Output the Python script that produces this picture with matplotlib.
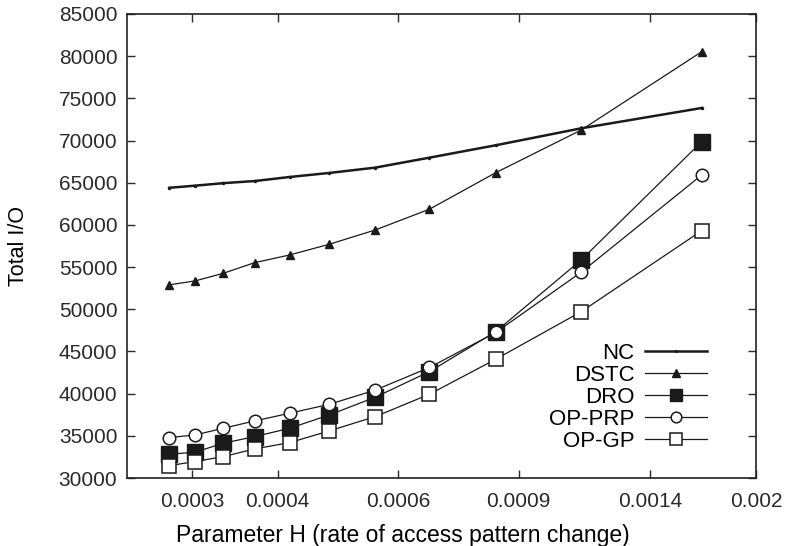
import matplotlib
matplotlib.use('Agg')
import matplotlib.pyplot as plt
import numpy as np

plt.rcParams['font.family'] = ['Liberation Sans', 'DejaVu Sans']

# H = 1/period, periods 3600 ... 600
H = [1/3600, 1/3300, 1/3000, 1/2700, 1/2400, 1/2100, 1/1800, 1/1500, 1/1200, 1/900, 1/600]

nc    = [64400, 64650, 64950, 65200, 65680, 66160, 66790, 67970, 69440, 71450, 73860]
dstc  = [52900, 53360, 54270, 55530, 56440, 57710, 59400, 61860, 66190, 71250, 80530]
dro   = [32820, 33060, 34130, 34910, 35900, 37480, 39580, 42610, 47350, 55850, 69870]
opprp = [34790, 35110, 35900, 36770, 37680, 38740, 40420, 43100, 47250, 54400, 65920]
opgp  = [31470, 31950, 32540, 33450, 34200, 35590, 37280, 39930, 44080, 49720, 59320]

xticks = [0.0003, 0.0004, 0.0006, 0.0009, 0.0014, 0.002]
xticklabels = ['0.0003', '0.0004', '0.0006', '0.0009', '0.0014', '0.002']
yticks = np.arange(30000, 85001, 5000)

fig = plt.figure(figsize=(7.85, 5.46), dpi=100)
ax = fig.add_axes([0.1618, 0.1245, 0.8012, 0.8499])

lc = '#1a1a1a'
ax.plot(H, nc, color=lc, lw=1.8, marker='.', ms=3, label='NC')
ax.plot(H, dstc, color=lc, lw=0.9, marker='^', ms=6, label='DSTC')
ax.plot(H, dro, color=lc, lw=0.9, marker='s', ms=11, label='DRO')
ax.plot(H, opprp, color=lc, lw=0.9, marker='o', ms=9, mfc='white', mew=1.1, label='OP-PRP')
ax.plot(H, opgp, color=lc, lw=0.9, marker='s', ms=9.5, mfc='white', mew=1.1, label='OP-GP')

ax.set_xscale('log')
ax.set_xlim(0.000241, 0.002)
ax.set_ylim(30000, 85000)
ax.set_xticks(xticks)
ax.set_xticklabels(xticklabels)
ax.xaxis.set_minor_locator(matplotlib.ticker.NullLocator())
ax.set_yticks(yticks)
ax.set_yticklabels([str(v) for v in yticks])

ax.tick_params(axis='both', which='major', direction='in', length=6, width=1,
               top=True, right=True, labelsize=15, colors='#2a2a2a')
ax.tick_params(axis='x', pad=10)
ax.tick_params(axis='y', pad=7)
for s in ax.spines.values():
    s.set_linewidth(1.2)
    s.set_color('#222222')

ax.set_xlabel('Parameter H (rate of access pattern change)', fontsize=16.5)
ax.xaxis.set_label_coords(0.439, -0.1)
ax.set_ylabel('Total I/O', fontsize=15.5)
ax.yaxis.set_label_coords(-0.156, 0.5)

ax.legend(loc='lower right', bbox_to_anchor=(0.922, 0.056), frameon=False,
          markerfirst=False, fontsize=16, handlelength=2.8, handletextpad=0.45,
          labelspacing=0.05, borderpad=0, borderaxespad=0, markerscale=0.85)

fig.savefig('out.png', dpi=100)
